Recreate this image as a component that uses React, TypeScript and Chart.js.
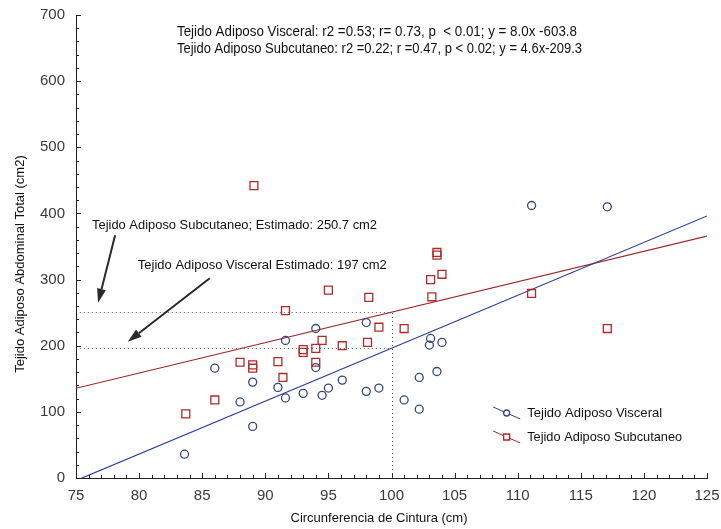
import React, { useEffect, useRef } from 'react';
import { Chart, registerables } from 'chart.js';

Chart.register(...registerables);

// ---- Data ----
const visceralX = [83.6, 86.0, 88.0, 89.0, 89.0, 91.0, 91.6, 91.6, 93.0, 94.0, 94.0, 94.5, 95.0, 96.1, 98.0, 98.0, 99.0, 101.0, 102.2, 102.2, 103.0, 103.1, 103.6, 104.0, 111.1, 117.1];
const visceralY = [36, 166, 115, 78, 145, 137, 121, 208, 128, 226, 167, 125, 136, 148, 131, 235, 136, 118, 104, 152, 201, 211, 161, 205, 412, 410];

const subcutaneoX = [83.7, 86.0, 88.0, 89.0, 89.0, 89.1, 91.0, 91.4, 91.6, 93.0, 93.0, 94.0, 94.0, 94.5, 95.0, 96.1, 98.1, 98.2, 99.0, 101.0, 103.1, 103.2, 103.6, 103.6, 104.0, 111.1, 117.1];
const subcutaneoY = [97, 118, 175, 166, 171, 442, 176, 152, 253, 190, 194, 196, 175, 208, 284, 200, 205, 273, 228, 226, 300, 274, 337, 341, 308, 279, 226];

// Regression lines (endpoints from the printed equations, x = 75 and x = 125)
const lineX = [75, 125];
const visceralLineY = [-3.8, 396.2];     // y = 8.0x - 603.8
const subcutaneoLineY = [135.7, 365.7];  // y = 4.6x - 209.3

// Estimates
const estimateX = 100;
const estimateSub = 250.7;
const estimateVis = 197;

const seriesNames = ['Tejido Adiposo Visceral', 'Tejido Adiposo Subcutaneo'];
const headerLines = [
  'Tejido Adiposo Visceral: r2 =0.53; r= 0.73, p  < 0.01; y = 8.0x -603.8',
  'Tejido Adiposo Subcutaneo: r2 =0.22; r =0.47, p < 0.02; y = 4.6x-209.3',
];
const annotationSub = 'Tejido Adiposo Subcutaneo; Estimado: 250.7 cm2';
const annotationVis = 'Tejido Adiposo Visceral Estimado: 197 cm2';
const xTitle = 'Circunferencia de Cintura (cm)';
const yTitle = 'Tejido Adiposo Abdominal Total (cm2)';

const xMin = 75, xMax = 125, xStep = 1, xLabelEvery = 5;
const yMin = 0, yMax = 700, yStep = 20, yLabelEvery = 100;

const FONT = '"Liberation Sans", Arial, sans-serif';
const VIS_COLOR = '#36457a';
const VIS_LINE = '#2b3f9c';
const SUB_COLOR = '#b02a2a';
const SUB_LINE = '#9a2b2b';

function pts(xs: number[], ys: number[]) {
  return xs.map((x, i) => ({ x, y: ys[i] }));
}

function drawArrow(ctx: CanvasRenderingContext2D, x1: number, y1: number, x2: number, y2: number) {
  const ang = Math.atan2(y2 - y1, x2 - x1);
  const head = 14;
  const hw = 4.5;
  const bx = x2 - head * Math.cos(ang);
  const by = y2 - head * Math.sin(ang);
  ctx.save();
  ctx.strokeStyle = '#2a2a2a';
  ctx.fillStyle = '#2a2a2a';
  ctx.lineWidth = 2;
  ctx.beginPath();
  ctx.moveTo(x1, y1);
  ctx.lineTo(bx, by);
  ctx.stroke();
  ctx.beginPath();
  ctx.moveTo(x2, y2);
  ctx.lineTo(bx + hw * Math.sin(ang), by - hw * Math.cos(ang));
  ctx.lineTo(bx - hw * Math.sin(ang), by + hw * Math.cos(ang));
  ctx.closePath();
  ctx.fill();
  ctx.restore();
}

const overlayPlugin = {
  id: 'overlay',
  afterDraw(chart: any) {
    const ctx: CanvasRenderingContext2D = chart.ctx;
    const xs = chart.scales.x;
    const ys = chart.scales.y;
    const ca = chart.chartArea;
    const X = (v: number) => xs.getPixelForValue(v);
    const Y = (v: number) => ys.getPixelForValue(v);

    ctx.save();
    // inward tick marks
    ctx.strokeStyle = '#222';
    ctx.lineWidth = 1;
    ctx.beginPath();
    xs.ticks.forEach((t: any) => {
      const px = Math.round(X(t.value)) + 0.5;
      const len = t.value % xLabelEvery === 0 ? 5 : 3;
      ctx.moveTo(px, ca.bottom);
      ctx.lineTo(px, ca.bottom - len);
    });
    ys.ticks.forEach((t: any) => {
      const py = Math.round(Y(t.value)) + 0.5;
      const len = t.value % yLabelEvery === 0 ? 5 : 3;
      ctx.moveTo(ca.left, py);
      ctx.lineTo(ca.left + len, py);
    });
    ctx.stroke();

    // dotted estimate lines
    ctx.strokeStyle = '#555';
    ctx.lineWidth = 1;
    ctx.setLineDash([1, 3]);
    ctx.beginPath();
    ctx.moveTo(X(75.3), Math.round(Y(estimateSub)) + 0.5);
    ctx.lineTo(X(estimateX), Math.round(Y(estimateSub)) + 0.5);
    ctx.moveTo(X(75.3), Math.round(Y(estimateVis)) + 0.5);
    ctx.lineTo(X(estimateX), Math.round(Y(estimateVis)) + 0.5);
    ctx.moveTo(Math.round(X(estimateX)) + 0.5, ca.bottom);
    ctx.lineTo(Math.round(X(estimateX)) + 0.5, Y(estimateSub));
    ctx.stroke();
    ctx.setLineDash([]);

    // arrows
    drawArrow(ctx, X(78.1), Y(367), X(76.75), Y(265));
    drawArrow(ctx, X(85.6), Y(302), X(79.1), Y(206));

    // texts
    ctx.fillStyle = '#111';
    ctx.textBaseline = 'middle';
    ctx.textAlign = 'left';
    ctx.font = `14px ${FONT}`;
    ctx.fillText(headerLines[0], X(83.0), Y(674), 400);
    ctx.fillText(headerLines[1], X(83.0), Y(648.5), 405);
    ctx.font = `13.5px ${FONT}`;
    ctx.fillText(annotationSub, X(76.27), Y(382.5), 285);
    ctx.fillText(annotationVis, X(79.9), Y(322), 249);

    // legend
    const lx1 = X(108.05), lx2 = X(110.2);
    const rows = [Y(98.3), Y(62.0)];
    rows.forEach((ry, i) => {
      const color = i === 0 ? VIS_LINE : SUB_LINE;
      ctx.strokeStyle = color;
      ctx.lineWidth = 1;
      ctx.beginPath();
      ctx.moveTo(lx1, ry - 6);
      ctx.lineTo(lx2, ry + 6);
      ctx.stroke();
      const mx = (lx1 + lx2) / 2;
      ctx.fillStyle = '#fff';
      ctx.strokeStyle = i === 0 ? VIS_COLOR : SUB_COLOR;
      ctx.lineWidth = 1.3;
      ctx.beginPath();
      if (i === 0) ctx.arc(mx, ry, 3, 0, Math.PI * 2);
      else ctx.rect(mx - 3, ry - 3, 6, 6);
      ctx.fill();
      ctx.stroke();
      ctx.fillStyle = '#111';
      ctx.font = `13.5px ${FONT}`;
      ctx.fillText(seriesNames[i], X(110.75), ry, i === 0 ? 135 : 155);
    });

    // axis titles
    ctx.textAlign = 'center';
    ctx.font = `13px ${FONT}`;
    ctx.fillText(xTitle, 379, 518, 177);
    ctx.save();
    ctx.translate(20, 264);
    ctx.rotate(-Math.PI / 2);
    ctx.fillText(yTitle, 0, 0, 222);
    ctx.restore();

    ctx.restore();
  },
};

export default function App() {
  const ref = useRef<HTMLCanvasElement | null>(null);

  useEffect(() => {
    if (!ref.current) return;
    const chart = new Chart(ref.current, {
      type: 'scatter',
      data: {
        datasets: [
          {
            type: 'line',
            label: seriesNames[0] + ' (ajuste)',
            data: pts(lineX, visceralLineY),
            borderColor: VIS_LINE,
            borderWidth: 1.2,
            pointRadius: 0,
            fill: false,
            order: 1,
          } as any,
          {
            type: 'line',
            label: seriesNames[1] + ' (ajuste)',
            data: pts(lineX, subcutaneoLineY),
            borderColor: SUB_LINE,
            borderWidth: 1.2,
            pointRadius: 0,
            fill: false,
            order: 1,
          } as any,
          {
            label: seriesNames[0],
            data: pts(visceralX, visceralY),
            pointStyle: 'circle',
            pointRadius: 4,
            borderColor: VIS_COLOR,
            backgroundColor: 'rgba(255,255,255,0)',
            borderWidth: 1.3,
            order: 0,
          },
          {
            label: seriesNames[1],
            data: pts(subcutaneoX, subcutaneoY),
            pointStyle: 'rect',
            pointRadius: 5.6,
            borderColor: SUB_COLOR,
            backgroundColor: 'rgba(255,255,255,0)',
            borderWidth: 1.3,
            order: 0,
          },
        ],
      },
      options: {
        animation: false,
        responsive: false,
        devicePixelRatio: 1,
        layout: { padding: { top: 15, right: 14, left: 0, bottom: 0 } },
        plugins: {
          legend: { display: false },
          tooltip: { enabled: false },
        },
        scales: {
          x: {
            type: 'linear',
            min: xMin,
            max: xMax,
            afterFit: (s: any) => { s.height = 51; s.paddingLeft = 0; s.paddingRight = 0; },
            border: { display: true, color: '#222', width: 1 },
            grid: { display: true, drawOnChartArea: false, drawTicks: false },
            ticks: {
              stepSize: xStep,
              autoSkip: false,
              maxRotation: 0,
              padding: 9,
              color: '#3a3a3a',
              font: { family: FONT, size: 15 },
              callback: (v: any) => (Number(v) % xLabelEvery === 0 ? String(v) : ''),
            },
          },
          y: {
            type: 'linear',
            min: yMin,
            max: yMax,
            afterFit: (s: any) => { s.width = 76; s.paddingTop = 0; s.paddingBottom = 0; },
            border: { display: true, color: '#222', width: 1 },
            grid: { display: true, drawOnChartArea: false, drawTicks: false },
            ticks: {
              stepSize: yStep,
              autoSkip: false,
              padding: 11,
              color: '#3a3a3a',
              font: { family: FONT, size: 15 },
              callback: (v: any) => (Number(v) % yLabelEvery === 0 ? String(v) : ''),
            },
          },
        },
      },
      plugins: [overlayPlugin],
    });
    return () => chart.destroy();
  }, []);

  return (
    <div style={{ position: 'fixed', left: 0, top: 0, width: 721, height: 529, background: '#fff' }}>
      <canvas ref={ref} width={721} height={529} style={{ display: 'block' }} />
    </div>
  );
}
